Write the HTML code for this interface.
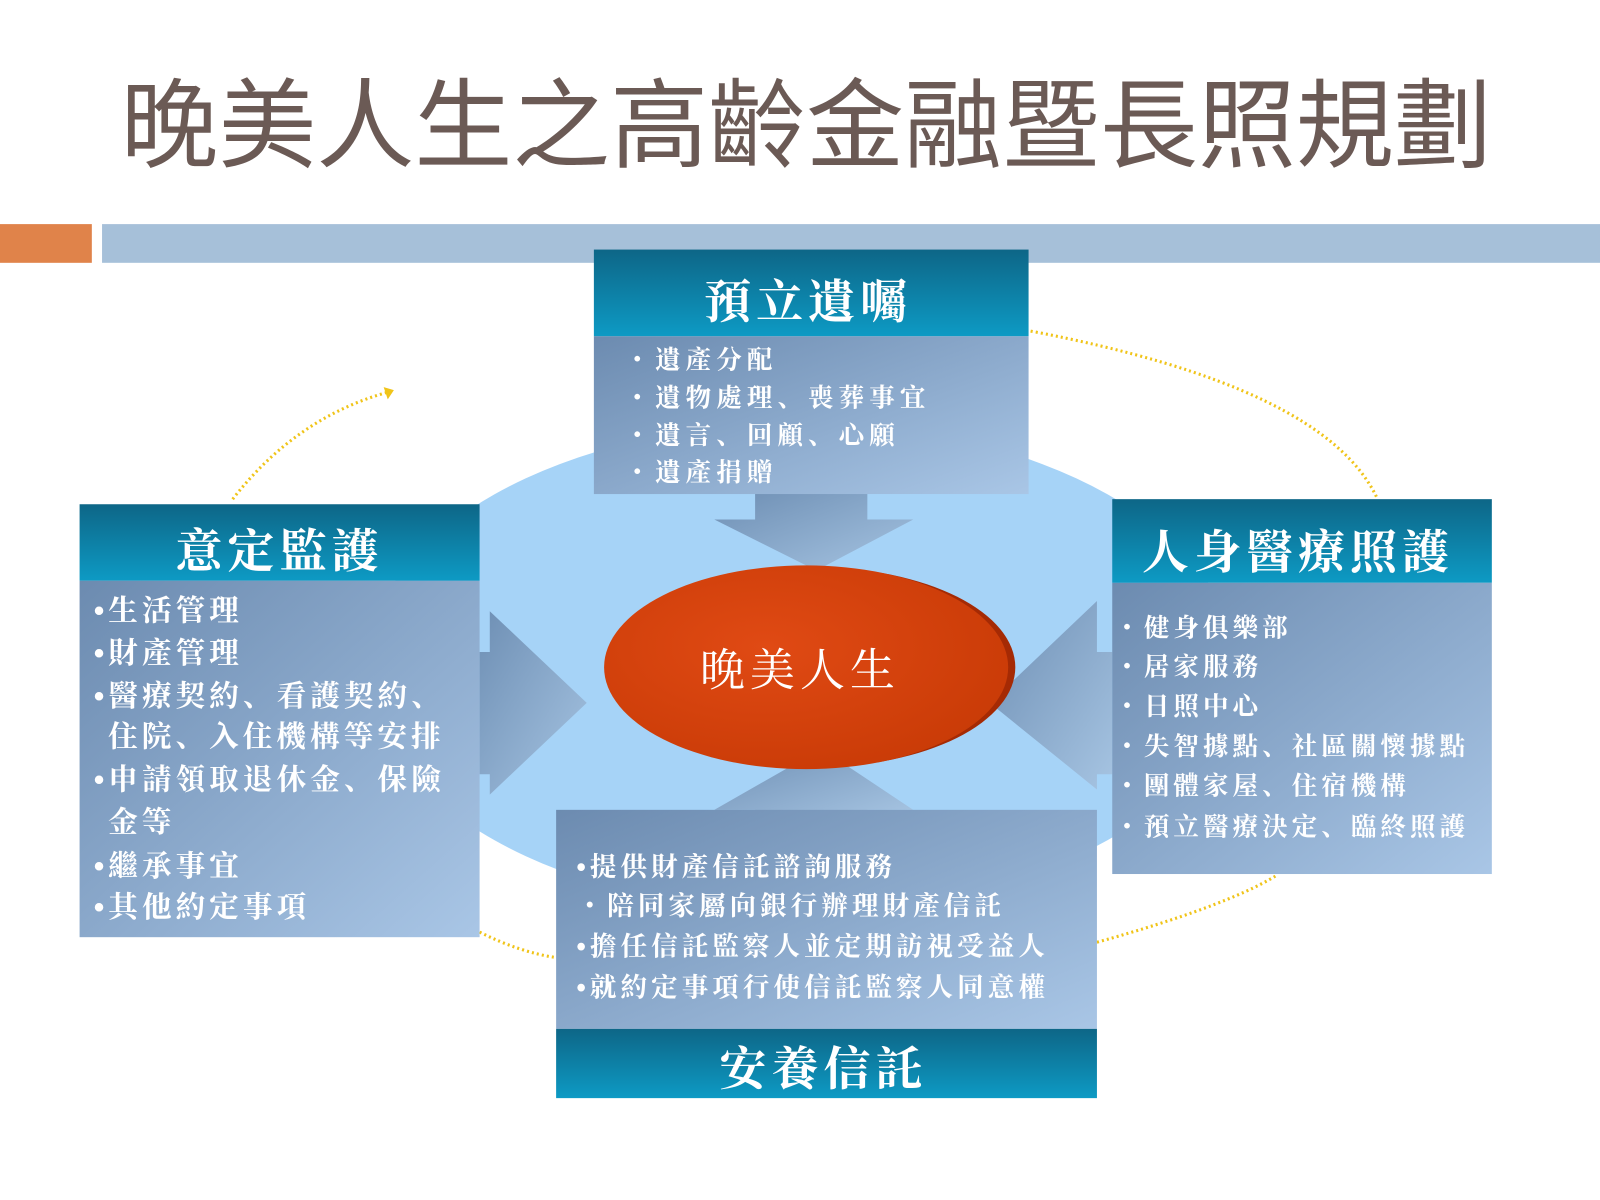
<!DOCTYPE html>
<html><head><meta charset="utf-8"><style>
html,body{margin:0;padding:0;background:#fff;width:1600px;height:1200px;overflow:hidden}
svg{display:block}
text{font-family:"Liberation Sans","Noto Serif CJK SC","Noto Sans CJK TC",sans-serif}
text.t{font-family:"Liberation Sans","Noto Sans CJK TC",sans-serif}
</style></head><body>
<svg width="1600" height="1200" viewBox="0 0 1568 1178" preserveAspectRatio="none" xmlns="http://www.w3.org/2000/svg">
<defs>
<linearGradient id="hdr" x1="0" y1="0" x2="0" y2="1"><stop offset="0" stop-color="#0d6687"/><stop offset="1" stop-color="#0d9ac4"/></linearGradient>
<linearGradient id="body" x1="0" y1="0" x2="1" y2="1"><stop offset="0" stop-color="#6c8bb0"/><stop offset="1" stop-color="#a9c6e6"/></linearGradient>
<linearGradient id="arr" x1="0" y1="0" x2="1" y2="1"><stop offset="0" stop-color="#6e8fb4"/><stop offset="1" stop-color="#a6c4e2"/></linearGradient>
<radialGradient id="red" cx="0.4" cy="0.4" r="0.7"><stop offset="0" stop-color="#e04a14"/><stop offset="1" stop-color="#c83a06"/></radialGradient>
</defs>
<text class="t" x="790" y="157" font-size="96" fill="#6b5a55" text-anchor="middle">晚美人生之高齡金融暨長照規劃</text>
<rect x="0" y="220" width="90" height="38" fill="#e0834a"/>
<rect x="100" y="220" width="1468" height="38" fill="#a6c0d9"/>
<ellipse cx="785" cy="655" rx="425" ry="240" fill="#a6d3f7"/>
<g fill="none" stroke="#f0c419" stroke-width="3" stroke-dasharray="2 3">
<path d="M1010 325 Q1300 380 1350 490"/>
<path d="M228 490 Q290 410 380 385"/>
<path d="M470 915 Q510 935 545 940"/>
<path d="M1075 925 Q1200 890 1250 860"/>
</g>
<polygon points="376,380 386,383 380,392" fill="#f0c419"/>
<polygon points="740,485 850,485 850,510 895,510 800,560 700,510 740,510" fill="url(#arr)"/>
<polygon points="470,640 480,640 480,600 575,690 480,780 480,760 470,760" fill="url(#arr)"/>
<polygon points="1090,640 1075,640 1075,590 970,690 1075,775 1075,760 1090,760" fill="url(#arr)"/>
<polygon points="740,800 850,800 850,795 895,795 805,735 700,795 740,795" fill="url(#arr)"/>
<ellipse cx="800" cy="655" rx="195" ry="98" fill="#a52a04"/>
<ellipse cx="790" cy="655" rx="198" ry="100" fill="url(#red)"/>
<text x="784" y="673" font-size="44" letter-spacing="5" fill="#fff" text-anchor="middle">晚美人生</text>
<rect x="582" y="330" width="426" height="155" fill="url(#body)"/>
<rect x="582" y="245" width="426" height="85" fill="url(#hdr)"/>
<text x="792" y="312" font-size="46" letter-spacing="5" fill="#fff" text-anchor="middle" font-weight="bold">預立遺囑</text>
<g font-size="25" letter-spacing="5" fill="#fff" font-weight="bold">
<text x="612" y="362">・遺產分配</text><text x="612" y="399">・遺物處理、喪葬事宜</text><text x="612" y="436">・遺言、回顧、心願</text><text x="612" y="472">・遺產捐贈</text>
</g>
<rect x="78" y="570" width="392" height="350" fill="url(#body)"/>
<rect x="78" y="495" width="392" height="75" fill="url(#hdr)"/>
<text x="274" y="557" font-size="46" letter-spacing="5" fill="#fff" text-anchor="middle" font-weight="bold">意定監護</text>
<g font-size="29" letter-spacing="4" fill="#fff" font-weight="bold">
<text x="92" y="609">•生活管理</text><text x="92" y="651">•財產管理</text><text x="92" y="693">•醫療契約、看護契約、</text><text x="106" y="733">住院、入住機構等安排</text><text x="92" y="775">•申請領取退休金、保險</text><text x="106" y="817">金等</text><text x="92" y="860">•繼承事宜</text><text x="92" y="900">•其他約定事項</text>
</g>
<rect x="1090" y="572" width="372" height="286" fill="url(#body)"/>
<rect x="1090" y="490" width="372" height="82" fill="url(#hdr)"/>
<text x="1272" y="558" font-size="46" letter-spacing="5" fill="#fff" text-anchor="middle" font-weight="bold">人身醫療照護</text>
<g font-size="25" letter-spacing="4" fill="#fff" font-weight="bold">
<text x="1092" y="625">・健身俱樂部</text><text x="1092" y="663">・居家服務</text><text x="1092" y="702">・日照中心</text><text x="1092" y="741">・失智據點、社區關懷據點</text><text x="1092" y="780">・團體家屋、住宿機構</text><text x="1092" y="820">・預立醫療決定、臨終照護</text>
</g>
<rect x="545" y="795" width="530" height="215" fill="url(#body)"/>
<rect x="545" y="1010" width="530" height="68" fill="url(#hdr)"/>
<text x="807" y="1065" font-size="46" letter-spacing="5" fill="#fff" text-anchor="middle" font-weight="bold">安養信託</text>
<g font-size="26" letter-spacing="4" fill="#fff" font-weight="bold">
<text x="565" y="860">•提供財產信託諮詢服務</text><text x="565" y="898">・陪同家屬向銀行辦理財產信託</text><text x="565" y="938">•擔任信託監察人並定期訪視受益人</text><text x="565" y="978">•就約定事項行使信託監察人同意權</text>
</g>
</svg>
</body></html>
